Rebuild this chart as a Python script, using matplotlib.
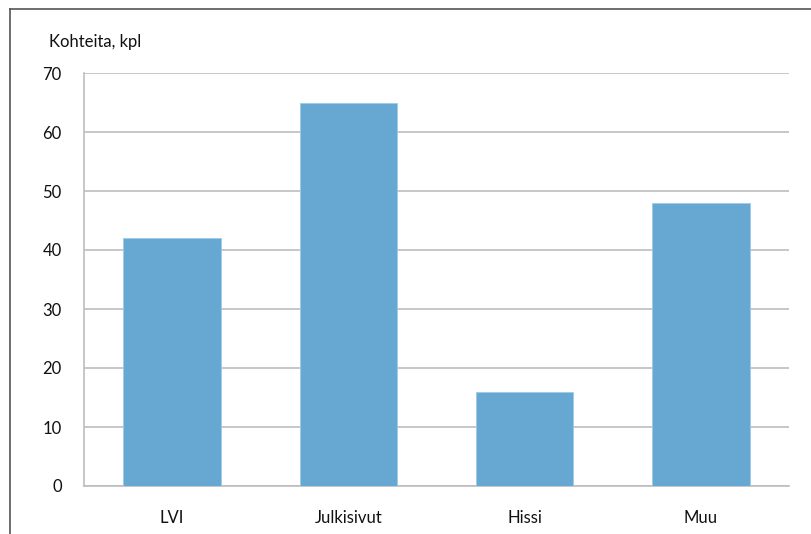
import numpy as np
import matplotlib
matplotlib.use("Agg")
from matplotlib import pyplot as plt
from matplotlib.lines import Line2D

categories = ["LVI", "Julkisivut", "Hissi", "Muu"]
counts = [42, 65, 16, 48]
yticks = [0, 10, 20, 30, 40, 50, 60, 70]

plt.rcParams['font.family'] = ['Lato', 'DejaVu Sans']

W, H = 811, 534
fig = plt.figure(figsize=(W/100, H/100), dpi=100)
ax = fig.add_axes([84/W, 1-486/H, (789-84)/W, (486-73)/H])

x = np.arange(len(categories))
ax.bar(x, counts, width=0.553, color="#66a8d2", edgecolor="#9ccbe8", linewidth=0.6, zorder=3)

ax.set_xlim(-0.5, len(categories)-0.5)
ax.set_ylim(0, 70)
ax.set_yticks(yticks)
ax.set_xticks(x)
ax.set_xticklabels(categories)
ax.grid(axis='y', color="#bdbdbd", linewidth=1.2, zorder=0)
ax.tick_params(length=0, labelsize=12, colors="#111111")
ax.tick_params(axis='y', pad=16)
ax.tick_params(axis='x', pad=17)
for s in ["top", "right"]:
    ax.spines[s].set_visible(False)
for s in ["left", "bottom"]:
    ax.spines[s].set_color("#bdbdbd")
    ax.spines[s].set_linewidth(1.2)

fig.text(49/W, 1-42/H, "Kohteita, kpl", fontsize=12, va='center', ha='left', color="#111111")

# outer frame: left and top edges
fig.add_artist(Line2D([10/W, 10/W], [0, 1-8.5/H], transform=fig.transFigure, color="#555555", linewidth=1.2))
fig.add_artist(Line2D([10/W, 1], [1-8.5/H, 1-8.5/H], transform=fig.transFigure, color="#555555", linewidth=1.2))

fig.savefig("out.png", dpi=100)
